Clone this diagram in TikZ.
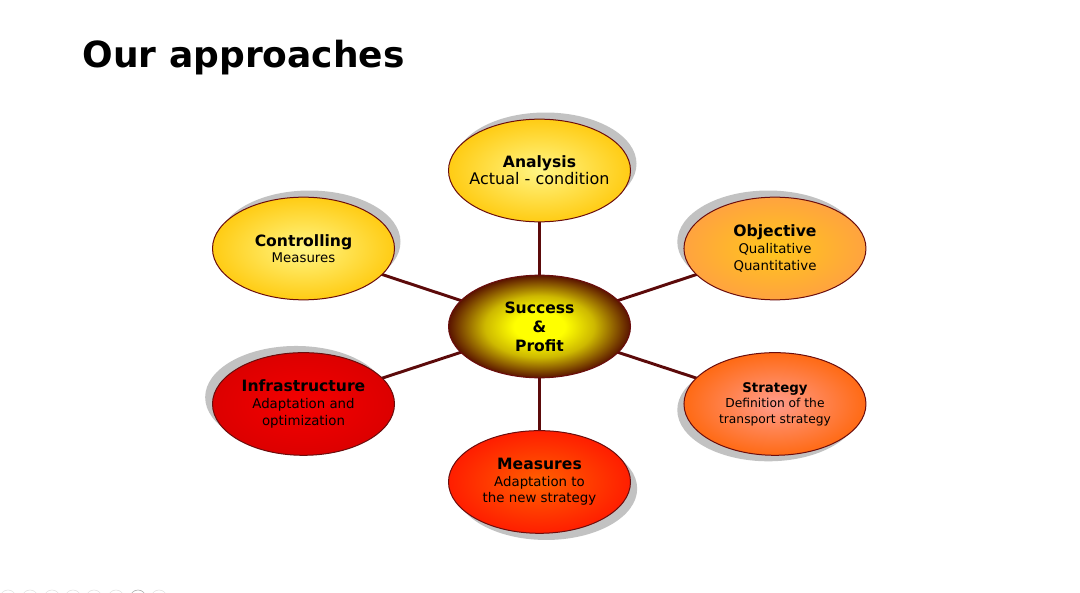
\documentclass[tikz,border=0pt]{standalone}
\usepackage{fontspec}
\setmainfont{DejaVu Sans}
\usepackage{tikz}
\usetikzlibrary{shapes.geometric}
\usetikzlibrary{shadows}
\usetikzlibrary{positioning}
\usetikzlibrary{backgrounds}

\definecolor{rim}{HTML}{6B0D0D}
\definecolor{spoke}{HTML}{5C0A0A}
\definecolor{goldin}{HTML}{FFF584}
\definecolor{goldout}{HTML}{FFCC14}
\definecolor{ambin}{HTML}{FFC61C}
\definecolor{ambout}{HTML}{FFA33F}
\definecolor{corein}{HTML}{FFFF00}
\definecolor{coreout}{HTML}{5A1400}
\definecolor{redin}{HTML}{F40000}
\definecolor{redout}{HTML}{DC0000}
\definecolor{salin}{HTML}{FF9C8C}
\definecolor{salout}{HTML}{FF6A14}
\definecolor{firein}{HTML}{FF6000}
\definecolor{fireout}{HTML}{FF1E00}

\pgfdeclareradialshading{coreshade}{\pgfpoint{0bp}{0bp}}{color(0bp)=(corein);
  color(7bp)=(corein); color(15bp)=(corein!70!coreout); color(25bp)=(coreout);
  color(50bp)=(coreout)}

\tikzset{
  bubble/.style={ellipse, draw=rim, line width=0.75pt, minimum width=136.5pt,
    minimum height=77pt, inner sep=0pt, align=center, shading=radial,
    font=\fontsize{10}{12.5}\selectfont},
  casts/.style 2 args={drop shadow={shadow xshift=#1, shadow yshift=#2,
    fill=black!24, opacity=1}},
  link/.style={draw=spoke, line width=2.2pt}
}
\newcommand{\hd}[1]{{\fontsize{11.7}{14}\selectfont\bfseries #1}}

\begin{document}
\begin{tikzpicture}[x=0.75pt, y=-0.75pt, on grid]
          \useasboundingbox (0,0) rectangle (1080,592);

          \node (ttl) [anchor=base west, font=\fontsize{27}{32}\selectfont\bfseries] at (78,68) {Our approaches};

          \node (succ) [bubble, shading=coreshade,
            font=\fontsize{11.7}{14.2}\selectfont\bfseries] at (539.5,326.5) {Success\\\&\\Profit};
          \node (anal) [bubble, casts={4.5pt}{5pt}, inner color=goldin, outer color=goldout,
            inner xsep=-8pt, above = 117pt of succ] {\hd{Analysis}\\{\fontsize{12}{14.2}\selectfont Actual - condition}};
          \node (ctrl) [bubble, casts={4.5pt}{5pt}, inner color=goldin, outer color=goldout,
            above left = 58.5pt and 177pt of succ] {\hd{Controlling}\\Measures};
          \node (obj) [bubble, casts={-5pt}{5pt}, inner color=ambin, outer color=ambout,
            above right = 58.5pt and 176.6pt of succ] {\hd{Objective}\\Qualitative\\Quantitative};
          \node (infra) [bubble, casts={-5.5pt}{5pt}, inner color=redin, outer color=redout,
            inner xsep=-3pt, below left = 58.1pt and 177pt of succ] {\hd{Infrastructure}\\Adaptation and\\optimization};
          \node (strat) [bubble, casts={-5pt}{-4.5pt}, inner color=salin, outer color=salout,
            below right = 58.1pt and 176.6pt of succ,
            font=\fontsize{9.2}{11.6}\selectfont] {{\fontsize{10}{12}\selectfont\bfseries Strategy}\\Definition of the\\transport strategy};
          \node (meas) [bubble, casts={5pt}{-5pt}, inner color=firein, outer color=fireout,
            below = 116.6pt of succ] {\hd{Measures}\\Adaptation to\\the new strategy};

          \begin{scope}[on background layer]
            \fill[white] (0,0) rectangle (1080,592);
            \draw[link] (succ.center) -- (anal.center);
            \draw[link] (succ.center) -- (ctrl.center);
            \draw[link] (succ.center) -- (obj.center);
            \draw[link] (succ.center) -- (infra.center);
            \draw[link] (succ.center) -- (strat.center);
            \draw[link] (succ.center) -- (meas.center);
          \end{scope}

          % slide buttons at the bottom edge
          \foreach \cx in {8,30,52,73,94,116,159}
            \draw[black!12] (\cx,598) circle (8);
          \draw[black!35] (138,598) circle (8);
        \end{tikzpicture}
\end{document}
